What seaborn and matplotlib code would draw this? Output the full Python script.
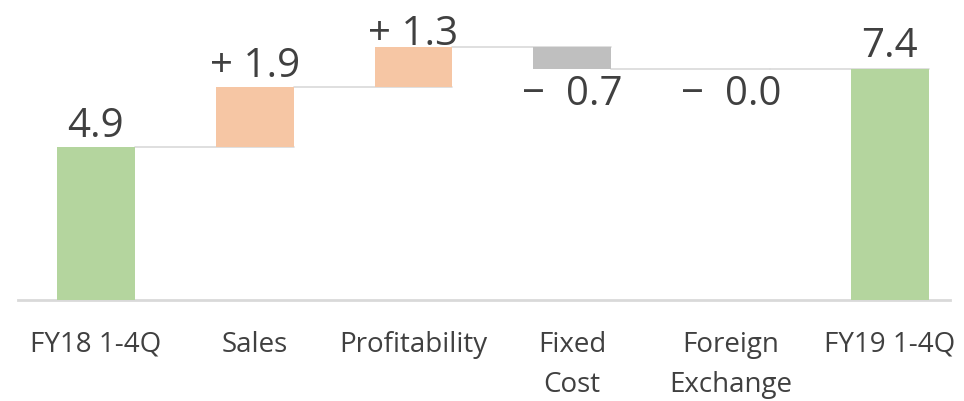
import numpy as np
import pandas as pd
import matplotlib
matplotlib.use("Agg")
import matplotlib.pyplot as plt
import seaborn as sns

# waterfall data
categories = ["FY18 1-4Q", "Sales", "Profitability", "Fixed\nCost", "Foreign\nExchange", "FY19 1-4Q"]
changes = [4.9, 1.9, 1.3, -0.7, -0.0, 7.4]
is_total = [True, False, False, False, False, True]
labels = ["4.9", "+ 1.9", "+ 1.3", "\u2212  0.7", "\u2212  0.0", "7.4"]

green = "#B4D59E"
orange = "#F6C6A4"
grey = "#BFBFBF"
text_col = "#404040"

# running totals -> bottom / top of each bar
bottoms, tops, levels = [], [], []
running = 0.0
for v, tot in zip(changes, is_total):
    if tot:
        bottoms.append(0.0)
        tops.append(v)
        running = v
    else:
        new = running + v
        bottoms.append(min(running, new))
        tops.append(max(running, new))
        running = new
    levels.append(running)

colors = []
for v, tot in zip(changes, is_total):
    if tot:
        colors.append(green)
    elif v > 0:
        colors.append(orange)
    else:
        colors.append(grey)

df = pd.DataFrame({
    "category": categories,
    "height": np.array(tops) - np.array(bottoms),
    "bottom": bottoms,
    "top": tops,
})

sns.set_style("white")
plt.rcParams["font.family"] = ["Open Sans", "DejaVu Sans"]

fig = plt.figure(figsize=(9.64, 4.01), dpi=100)
ax = fig.add_axes([0.0187, 0.252, 0.967, 0.748])

w = 0.49
sns.barplot(data=df, x="category", y="height", hue="category",
            palette=colors, width=w, legend=False, ax=ax,
            saturation=1, linewidth=0, zorder=3)

# shift each bar up to its waterfall bottom
for p, b in zip(ax.patches, df["bottom"]):
    p.set_y(b)

# connector lines (run under the next bar so zero-height steps stay joined)
for i in range(len(categories) - 1):
    ax.plot([i + w / 2, i + 1 + w / 2], [levels[i], levels[i]],
            color="#D9D9D9", lw=1.2, zorder=1)

# value labels
gaps = [0.33, 0.35, 0.07, 0.2, 0.2, 0.36]
for i, (v, tot, lab) in enumerate(zip(changes, is_total, labels)):
    if tot or v > 0:
        ax.text(i, df["top"][i] + gaps[i], lab, ha="center", va="baseline",
                fontsize=29, color=text_col)
    else:
        ax.text(i, df["bottom"][i] - gaps[i], lab, ha="center", va="top",
                fontsize=29, color=text_col)

ax.set_ylim(0, 9.6)
ax.set_xlim(-0.49, 5.38)
ax.set_xlabel("")
ax.set_ylabel("")
ax.set_yticks([])
ax.tick_params(axis="x", length=0, pad=22, labelsize=20, labelcolor=text_col)
for t in ax.get_xticklabels():
    t.set_linespacing(1.6)
    t.set_verticalalignment("top")
for s in ["top", "left", "right"]:
    ax.spines[s].set_visible(False)
ax.spines["bottom"].set_color("#D9D9D9")
ax.spines["bottom"].set_linewidth(2)

fig.savefig("out.png", dpi=100)
